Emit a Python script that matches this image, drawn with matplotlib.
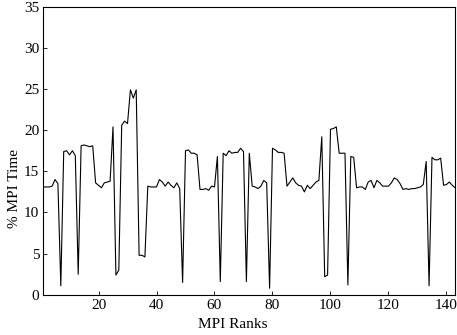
import matplotlib
matplotlib.use("Agg")
from matplotlib import pyplot as plt
import numpy as np

plt.rcParams['font.family'] = ['Liberation Serif', 'DejaVu Serif']
plt.rcParams['mathtext.fontset'] = 'stix'

# % of time spent in MPI, one value per rank (1..143)
ranks = np.arange(1, 144)
mpi_pct = [
    13.1, 13.1, 13.1, 13.2, 14.0, 13.5, 1.1, 17.4, 17.5, 17.0,
    17.5, 16.9, 2.5, 18.1, 18.2, 18.1, 18.0, 18.1, 13.6, 13.3,
    13.0, 13.6, 13.7, 13.8, 20.4, 2.4, 3.0, 20.6, 21.1, 20.8,
    24.9, 23.9, 24.9, 4.8, 4.8, 4.6, 13.2, 13.1, 13.1, 13.1,
    14.0, 13.7, 13.2, 13.7, 13.3, 13.0, 13.6, 12.9, 1.5, 17.5,
    17.6, 17.2, 17.2, 17.0, 12.8, 12.8, 12.9, 12.7, 13.2, 13.1,
    16.8, 1.6, 17.2, 16.9, 17.5, 17.2, 17.3, 17.3, 17.8, 17.4,
    1.6, 17.2, 13.2, 13.1, 12.9, 13.2, 13.9, 13.6, 0.8, 17.8,
    17.6, 17.3, 17.3, 17.2, 13.2, 13.7, 14.2, 13.6, 13.3, 13.2,
    12.5, 13.3, 12.9, 13.3, 13.7, 13.9, 19.2, 2.2, 2.4, 20.1,
    20.2, 20.4, 17.2, 17.2, 17.2, 1.2, 16.8, 16.7, 13.0, 13.1,
    13.1, 12.8, 13.7, 13.9, 13.0, 13.9, 13.6, 13.2, 13.2, 13.2,
    13.6, 14.2, 14.0, 13.5, 12.8, 12.9, 12.8, 12.9, 12.9, 13.0,
    13.1, 13.4, 16.2, 1.1, 16.7, 16.4, 16.4, 16.6, 13.3, 13.4,
    13.7, 13.3, 13.0,
]

fig = plt.figure(figsize=(4.57, 3.35), dpi=100)
ax = fig.add_axes([0.095, 0.12, 0.901, 0.86])

ax.plot(ranks, mpi_pct, color='black', lw=0.8)

ax.set_xlim(1, 143)
ax.set_ylim(0, 35)
ax.set_xticks([20, 40, 60, 80, 100, 120, 140])
ax.set_yticks([0, 5, 10, 15, 20, 25, 30, 35])
ax.tick_params(direction='in', length=3, width=0.6, labelsize=11,
               top=False, right=False, pad=3)
for sp in ax.spines.values():
    sp.set_linewidth(0.8)

ax.set_xlabel('MPI Ranks', fontsize=11)
ax.set_ylabel('% MPI Time', fontsize=11)
# labels sit a bit off-centre in the original
ax.xaxis.set_label_coords(0.46, -0.08)
ax.yaxis.set_label_coords(-0.055, 0.37)

fig.savefig('out.png', dpi=100)
